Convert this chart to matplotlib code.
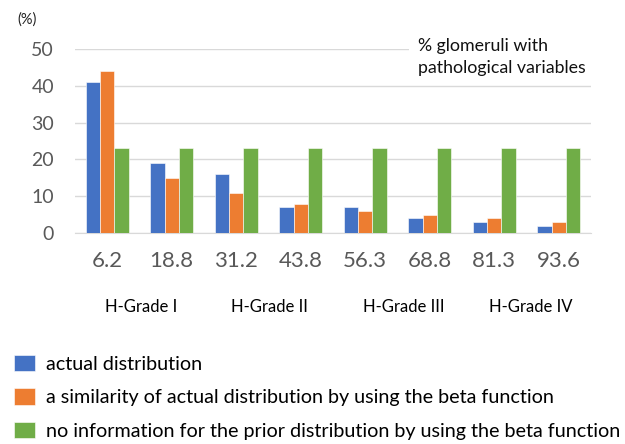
import matplotlib.pyplot as plt
import matplotlib.transforms as mtransforms
import numpy as np

plt.rcParams['font.family'] = ['Lato', 'DejaVu Sans']

# data
bins = ['6.2', '18.8', '31.2', '43.8', '56.3', '68.8', '81.3', '93.6']
actual = [41, 19, 16, 7, 7, 4, 3, 2]
beta_similar = [44, 15, 11, 8, 6, 5, 4, 3]
no_prior = [23, 23, 23, 23, 23, 23, 23, 23]
grades = ['H-Grade I', 'H-Grade II', 'H-Grade III', 'H-Grade IV']
labels = ['actual distribution',
          'a similarity of actual distribution by using the beta function',
          'no information for the prior distribution by using the beta function']

colors = ['#4472C4', '#ED7D31', '#70AD47']

fig = plt.figure(figsize=(6.25, 4.44), dpi=100)
ax = fig.add_axes([0.12, 0.4752, 0.8256, 0.4144])

x = np.arange(len(bins))
w = 0.22
bars = []
for k, vals in enumerate([actual, beta_similar, no_prior]):
    b = ax.bar(x + (k - 1) * w, vals, w, color=colors[k], edgecolor='white', linewidth=0.4, zorder=3)
    bars.append(b)

ax.set_xlim(-0.5, 7.5)
ax.set_ylim(0, 50)
ax.set_yticks([0, 10, 20, 30, 40, 50])
ax.set_xticks(x)
ax.set_xticklabels(bins)
ax.tick_params(axis='y', length=0, labelsize=14, labelcolor='#595959', pad=15)
ax.tick_params(axis='x', length=0, labelsize=16, labelcolor='#595959', pad=13)
ax.grid(axis='y', color='#d9d9d9', linewidth=1, zorder=0)
for s in ['top', 'right', 'left']:
    ax.spines[s].set_visible(False)
ax.spines['bottom'].set_color('#d9d9d9')

# (%) unit label
fig.text(0.027, 0.957, '(%)', fontsize=10.5, color='#222222', va='center')

# annotation with white box hiding gridlines
ax.text(4.82, 52.9, '% glomeruli with\npathological variables', fontsize=12.8,
        va='top', ha='left', linespacing=1.4, zorder=4, color='#111111',
        bbox=dict(fc='white', ec='none', pad=6.5))

# grade labels under the bins
trans = mtransforms.blended_transform_factory(ax.transData, ax.transAxes)
for gx, g in zip([0.52, 2.52, 4.6, 6.57], grades):
    ax.text(gx, -0.40, g, transform=trans, ha='center', va='center', fontsize=12)

fig.legend(bars, labels, loc='upper left', bbox_to_anchor=(0.0, 0.232),
           frameon=False, fontsize=14.2, handlelength=1.08, handleheight=0.88,
           labelspacing=0.8, handletextpad=0.55, borderaxespad=0.3)

fig.savefig('out.png', dpi=100)
